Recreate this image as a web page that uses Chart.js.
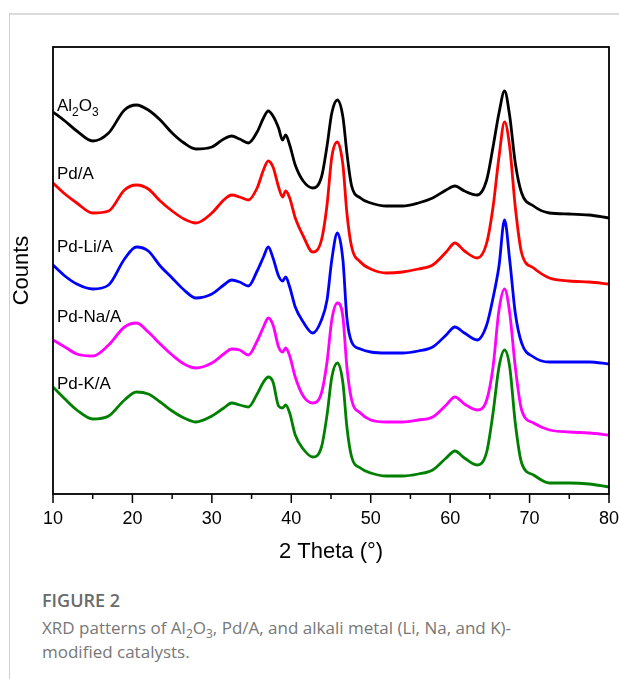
<!DOCTYPE html>
<html>
<head>
<meta charset="utf-8">
<script src="https://cdn.jsdelivr.net/npm/chart.js@4/dist/chart.umd.min.js"></script>
<style>
    html, body { margin: 0; padding: 0; background: #fff; }
    body { width: 619px; height: 679px; position: relative; overflow: hidden; }
    #frameTop { position: absolute; left: 9px; top: 13px; width: 610px; height: 2px; background: #dcdcdc; }
    #frameLeft { position: absolute; left: 9px; top: 13px; width: 1px; height: 666px; background: #cfcfcf; }
    #chart { position: absolute; left: 0; top: 0; }
    .cap { position: absolute; left: 42px; font-family: "Open Sans", "Noto Sans", sans-serif; }
    #capTitle { top: 588px; font-size: 18px; line-height: 24px; font-weight: 600; color: #6a6a6a; }
    #capText { top: 616px; font-size: 17px; line-height: 24px; color: #777; }
    #capText sub { font-size: 12px; line-height: 0; }
</style>
</head>
<body>
<div id="frameTop"></div>
<div id="frameLeft"></div>
<canvas id="chart" width="619" height="580"></canvas>
<div class="cap" id="capTitle">FIGURE 2</div>
<div class="cap" id="capText">XRD patterns of Al<sub>2</sub>O<sub>3</sub>, Pd/A, and alkali metal (Li, Na, and K)-<br>modified catalysts.</div>

<script>
'use strict';

/* ── Données (2θ en degrés, intensités en u.a. décalées) ── */
var THETA = [10, 11.5, 13, 15, 17, 19, 20.5, 22, 23.5, 25,
    26.5, 28, 30, 31.5, 32.5, 33.5, 34.6, 35.7, 36.5, 37.1,
    37.7, 38.4, 38.9, 39.3, 39.8, 40.5, 41.5, 42.7, 43.8, 44.5,
    45.1, 45.8, 46.5, 47.0, 47.6, 48.7, 50, 52, 54, 56,
    57.8, 59.5, 60.6, 61.8, 63.4, 64.6, 65.4, 66.15, 66.85, 67.5,
    68.2, 69.0, 70.5, 72.5, 75, 77.5, 80];

var AL2O3 = [382, 373, 363, 353, 361, 384, 389, 384, 374, 361,
    351, 345, 347, 355, 358, 355, 351, 362, 376, 383,
    378, 366, 354, 359, 349, 329, 313, 306, 317, 348,
    381, 394, 377, 341, 308, 296, 291, 288, 288, 291,
    296, 304, 308, 303, 299, 314, 347, 381, 403, 378,
    331, 301, 288, 281, 280, 279, 276];

var PD_A = [311, 300, 291, 281, 283, 304, 309, 305, 293, 283,
    275, 271, 281, 294, 299, 297, 294, 306, 324, 333,
    327, 307, 297, 303, 296, 276, 258, 242, 254, 289,
    337, 352, 329, 281, 247, 232, 225, 221, 222, 225,
    229, 242, 251, 243, 236, 251, 287, 337, 372, 347,
    287, 241, 226, 216, 213, 212, 210];

var PD_LI = [229, 218, 210, 205, 209, 235, 247, 243, 228, 216,
    204, 196, 200, 209, 214, 212, 208, 223, 237, 247,
    236, 218, 213, 217, 207, 187, 172, 161, 174, 194,
    234, 261, 234, 176, 152, 145, 142, 141, 141, 143,
    147, 159, 167, 161, 154, 169, 196, 228, 274, 234,
    181, 151, 137, 132, 132, 132, 130];

var PD_NA = [154, 147, 140, 138, 149, 167, 171, 162, 150, 139,
    130, 126, 131, 140, 145, 144, 139, 153, 167, 176,
    169, 147, 142, 146, 138, 117, 98, 91, 101, 132,
    174, 191, 177, 127, 94, 81, 74, 72, 72, 74,
    77, 89, 97, 90, 84, 94, 127, 184, 205, 181,
    127, 84, 71, 64, 62, 61, 59];

var PD_K = [107, 95, 84, 75, 78, 94, 102, 100, 92, 83,
    76, 72, 78, 86, 91, 89, 87, 100, 112, 117,
    112, 88, 86, 89, 81, 59, 45, 37, 47, 79,
    117, 131, 111, 67, 37, 26, 21, 18, 18, 20,
    24, 36, 43, 36, 29, 42, 81, 127, 144, 127,
    71, 31, 19, 11, 11, 10, 7];

var SERIES_NAMES  = ['Al2O3', 'Pd/A', 'Pd-Li/A', 'Pd-Na/A', 'Pd-K/A'];
var SERIES_COLORS = ['#000000', '#ff0000', '#0000ff', '#ff00ff', '#008000'];
var X_TICKS = [10, 20, 30, 40, 50, 60, 70, 80];

/* ── Étiquettes des courbes (intensité de la ligne de base du texte) ── */
var LABEL_Y = [383, 315, 242, 172, 105];

var FONT = '"Liberation Sans", Arial, sans-serif';

function toPoints(arr) {
    return THETA.map(function (t, i) { return { x: t, y: arr[i] }; });
}

var allSeries = [AL2O3, PD_A, PD_LI, PD_NA, PD_K];
var datasets = allSeries.map(function (arr, i) {
    return {
        label:       SERIES_NAMES[i],
        data:        toPoints(arr),
        borderColor: SERIES_COLORS[i],
        borderWidth: 2.8,
        pointRadius: 0,
        fill:        false,
        cubicInterpolationMode: 'monotone'
    };
});

/* Cadre, graduations et noms des échantillons */
var framePlugin = {
    id: 'frameXrd',
    afterDraw: function (chart) {
        var c = chart.ctx;
        var a = chart.chartArea;
        var xs = chart.scales.x;
        var ys = chart.scales.y;
        c.save();
        c.strokeStyle = '#000';
        c.lineWidth = 1.8;
        c.strokeRect(a.left, a.top, a.right - a.left, a.bottom - a.top);

        c.lineWidth = 1.5;
        for (var v = 10; v <= 80; v += 5) {
            var px = xs.getPixelForValue(v);
            var len = (v % 10 === 0) ? 9 : 5;
            c.beginPath();
            c.moveTo(px, a.bottom);
            c.lineTo(px, a.bottom + len);
            c.stroke();
        }

        c.fillStyle = '#000';
        c.textBaseline = 'alphabetic';
        c.textAlign = 'left';
        var x0 = xs.getPixelForValue(10) + 4;
        LABEL_Y.forEach(function (val, i) {
            var py = ys.getPixelForValue(val);
            if (i === 0) {
                var x = x0;
                c.font = '17px ' + FONT;
                c.fillText('Al', x, py); x += c.measureText('Al').width;
                c.font = '12px ' + FONT;
                c.fillText('2', x, py + 5); x += c.measureText('2').width;
                c.font = '17px ' + FONT;
                c.fillText('O', x, py); x += c.measureText('O').width;
                c.font = '12px ' + FONT;
                c.fillText('3', x, py + 5);
            } else {
                c.font = '17px ' + FONT;
                c.fillText(SERIES_NAMES[i], x0, py);
            }
        });
        c.restore();
    }
};

new Chart(document.getElementById('chart'), {
    type: 'line',
    data: { datasets: datasets },
    plugins: [framePlugin],
    options: {
        responsive: false,
        animation: false,
        layout: { padding: { left: 0, right: 10, top: 47, bottom: 0 } },
        plugins: { legend: { display: false }, tooltip: { enabled: false } },
        scales: {
            x: {
                type: 'linear',
                min: 10,
                max: 80,
                afterFit: function (s) {
                    s.height = 86;
                    s.paddingLeft = 0;
                    s.paddingRight = 0;
                },
                afterBuildTicks: function (s) {
                    s.ticks = X_TICKS.map(function (v) { return { value: v }; });
                },
                grid: { display: false, drawTicks: false },
                border: { display: false },
                ticks: { color: '#000', font: { family: FONT, size: 18 }, padding: 14, maxRotation: 0 },
                title: {
                    display: true,
                    text: '2 Theta (°)',
                    color: '#000',
                    font: { family: FONT, size: 22 },
                    padding: { top: 15, bottom: 15 }
                }
            },
            y: {
                min: 0,
                max: 447,
                afterFit: function (s) {
                    s.width = 53;
                    s.paddingTop = 0;
                    s.paddingBottom = 0;
                },
                grid: { display: false, drawTicks: false },
                border: { display: false },
                ticks: { display: false },
                title: {
                    display: true,
                    text: 'Counts',
                    color: '#000',
                    font: { family: FONT, size: 22 },
                    padding: { top: 9, bottom: 9 }
                }
            }
        }
    }
});
</script>
</body>
</html>
